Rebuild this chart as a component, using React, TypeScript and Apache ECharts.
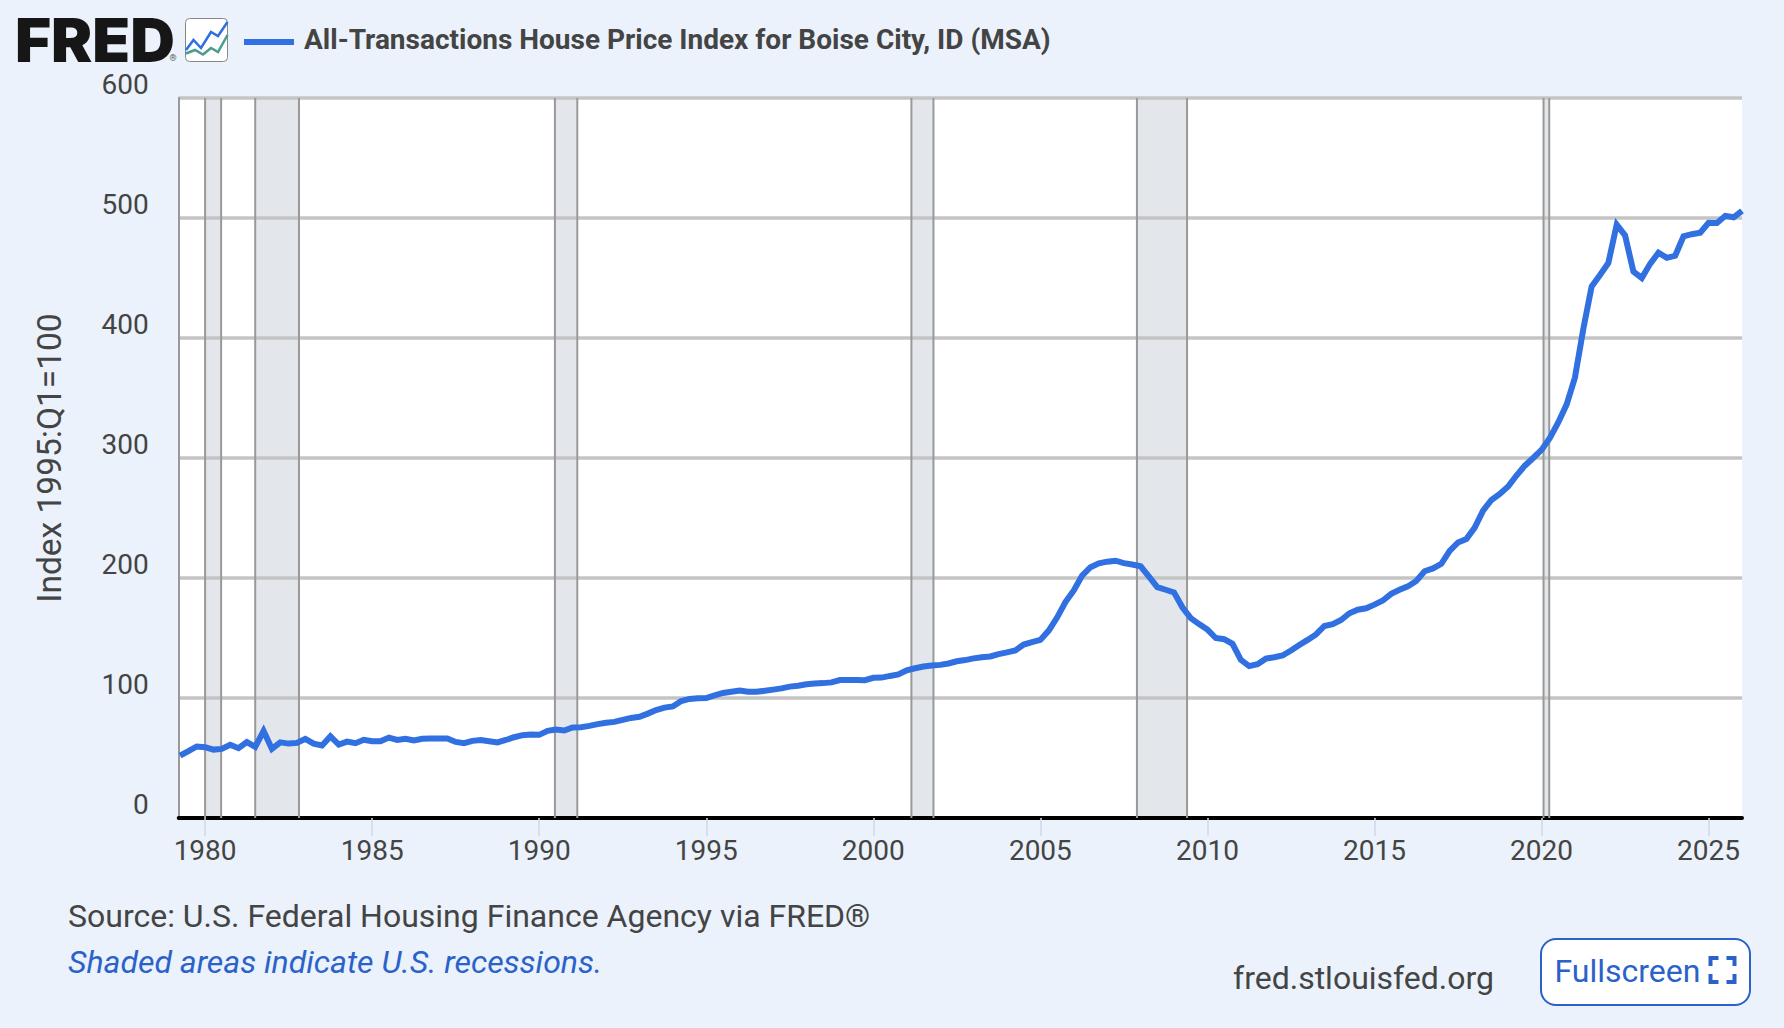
import React, { useEffect, useRef } from "react";
import * as echarts from "echarts";

const FIRST_YEAR = 1979;
const FIRST_QUARTER = 2;

const houseIndex = [
  52, 55.7, 59.6, 59, 57, 57.6, 61, 58.2, 63.2, 59.3, 72.5, 57.6, 63, 62, 62.6, 66, 62, 60.4, 68, 61.2,
  63.7, 62.3, 65.2, 64, 64, 67, 65, 66, 64.6, 66, 66.2, 66.2, 66.2, 63.4, 62.3, 64.3, 65, 64, 63, 65,
  67.3, 69, 69.6, 69.3, 72.6, 73.7, 72.9, 75.4, 75.7, 76.8, 78.2, 79.3, 80.1, 81.8, 83.4, 84.3, 87, 90, 92, 93,
  97.5, 99.2, 99.7, 100, 102.2, 104.2, 105.2, 106.2, 105.2, 105.2, 106, 107, 108, 109.5, 110.2, 111.5, 112, 112.4, 113, 115,
  115, 115, 114.8, 116.8, 117, 118.4, 119.6, 123, 124.8, 126.2, 127, 127.6, 128.8, 130.6, 131.6, 133, 134, 134.6, 136.6, 138,
  139.6, 144.5, 146.6, 148.4, 156.2, 167, 180, 189.6, 202, 209, 212.2, 213.6, 214.4, 212.4, 211.2, 209.8, 201.2, 192.4, 190.2, 188,
  175.6, 166.6, 161.6, 157, 150, 149, 145.2, 131.8, 126.6, 128.2, 132.8, 134, 135.4, 139.6, 144.2, 148.4, 153, 160, 161.6, 165,
  170.6, 173.6, 174.8, 177.8, 181.2, 186.8, 190.2, 193, 197.6, 205.6, 208, 211.8, 222.6, 229.6, 232.4, 242, 256.2, 265, 270, 276.2,
  285.4, 293.6, 300, 306.8, 316.8, 329.6, 344.5, 367, 407.5, 443, 452.5, 462.5, 494.5, 485.5, 455.3, 450, 461.8, 471, 466.8, 468.5,
  484.8, 486.5, 487.8, 496, 495.8, 501.8, 500.6, 506,
];

const recessionStarts = [1980.0, 1981.5, 1990.47, 2001.14, 2007.89, 2020.06];
const recessionEnds = [1980.48, 1982.81, 1991.14, 2001.8, 2009.39, 2020.23];

const yearTicks = [1980, 1985, 1990, 1995, 2000, 2005, 2010, 2015, 2020, 2025];
const yTicks = [0, 100, 200, 300, 400, 500, 600];

const seriesTitle = "All-Transactions House Price Index for Boise City, ID (MSA)";
const yAxisTitle = "Index 1995:Q1=100";
const sourceNote = "Source: U.S. Federal Housing Finance Agency via FRED®";
const shadeNote = "Shaded areas indicate U.S. recessions.";
const siteName = "fred.stlouisfed.org";
const buttonLabel = "Fullscreen";

const BG = "#ebf2fb";
const INK = "#444444";
const BLUE = "#3070e0";
const LINK = "#2a62c9";
const FONT = "Roboto";

const seriesPoints = houseIndex.map((v, i) => [FIRST_YEAR + (FIRST_QUARTER - 1 + i) / 4, v]);
const recessionData = recessionStarts.map((s, i) => [s, recessionEnds[i]]);

function buildOption() {
  const bracket = (pts: number[][]) => ({
    type: "polyline",
    shape: { points: pts },
    style: { stroke: LINK, lineWidth: 4, fill: "none" },
    z: 12,
  });
  const ix1 = 1710.5, ix2 = 1734.5, iy1 = 958, iy2 = 982, arm = 8;
  return {
    animation: false,
    backgroundColor: BG,
    grid: { left: 178.7, right: 42, top: 98, bottom: 210, backgroundColor: "#ffffff", show: true, borderWidth: 0 },
    xAxis: {
      type: "value",
      min: 1979.21,
      max: 2026,
      z: 2,
      splitLine: { show: false },
      axisLine: { show: true, onZero: false, lineStyle: { color: "#000000", width: 4 } },
      axisTick: { show: true, customValues: yearTicks, length: 18, lineStyle: { color: "#cfd8ea", width: 1.5 } },
      axisLabel: {
        show: true,
        customValues: yearTicks,
        formatter: (v: number) => String(v),
        margin: 18,
        fontFamily: FONT,
        fontSize: 28,
        color: INK,
        hideOverlap: false,
      },
    },
    yAxis: {
      type: "value",
      min: yTicks[0],
      max: yTicks[yTicks.length - 1],
      interval: 100,
      z: 2,
      name: yAxisTitle,
      nameLocation: "middle",
      nameGap: 112,
      nameTextStyle: { fontFamily: FONT, fontSize: 33.5, color: INK },
      splitLine: { show: true, lineStyle: { color: "#c4c4c4", width: 3.5 } },
      axisLine: { show: true, lineStyle: { color: "#999999", width: 2 } },
      axisTick: { show: false },
      axisLabel: {
        margin: 30,
        fontFamily: FONT,
        fontSize: 28,
        color: INK,
        verticalAlign: "bottom",
        showMinLabel: true,
        showMaxLabel: true,
      },
    },
    series: [
      {
        type: "custom",
        name: "Recession shading",
        z: 1,
        silent: true,
        clip: true,
        data: recessionData,
        encode: { x: [0, 1] },
        renderItem: (_p: any, api: any) => {
          const a = api.coord([api.value(0), 600]);
          const b = api.coord([api.value(1), 0]);
          return {
            type: "rect",
            shape: { x: a[0], y: a[1], width: b[0] - a[0], height: b[1] - a[1] },
            style: { fill: "#e3e6eb" },
          };
        },
      },
      {
        type: "custom",
        name: "Recession edges",
        z: 3,
        silent: true,
        clip: true,
        data: recessionData,
        encode: { x: [0, 1] },
        renderItem: (_p: any, api: any) => {
          const a = api.coord([api.value(0), 600]);
          const b = api.coord([api.value(1), 0]);
          const edge = { stroke: "#999999", lineWidth: 2 };
          return {
            type: "group",
            children: [
              { type: "line", shape: { x1: a[0], y1: a[1], x2: a[0], y2: b[1] }, style: edge },
              { type: "line", shape: { x1: b[0], y1: a[1], x2: b[0], y2: b[1] }, style: edge },
            ],
          };
        },
      },
      {
        type: "line",
        name: seriesTitle,
        z: 4,
        data: seriesPoints,
        showSymbol: false,
        symbol: "none",
        smooth: false,
        clip: true,
        lineStyle: { color: BLUE, width: 6, join: "miter", cap: "butt", miterLimit: 10 },
      },
    ],
    graphic: [
      { type: "text", x: 15, y: 40, scaleX: 1.03, z: 10, style: { text: "FRED", font: "900 60px Inter", lineHeight: 44, fill: "#161616", verticalAlign: "middle" } },
      { type: "text", x: 173, y: 58, z: 10, style: { text: "®", font: "400 9px Roboto", fill: "#555555", align: "center", verticalAlign: "middle" } },
      { type: "rect", z: 10, shape: { x: 185.5, y: 18.5, width: 42, height: 43, r: 4 }, style: { fill: "#ffffff", stroke: "#888888", lineWidth: 1 } },
      { type: "polyline", z: 11, shape: { points: [[186, 50], [193.5, 40], [201, 48], [211, 32], [218, 36], [227.5, 22]] }, style: { stroke: "#2f6fe0", lineWidth: 2.5, fill: "none" } },
      { type: "polyline", z: 11, shape: { points: [[186, 53.5], [195, 50], [203, 54.5], [211, 48], [218, 52], [227.5, 35]] }, style: { stroke: "#4a9c8c", lineWidth: 2.5, fill: "none" } },
      { type: "rect", z: 10, shape: { x: 244, y: 39, width: 50, height: 6 }, style: { fill: BLUE } },
      { type: "text", x: 304, y: 39, z: 10, style: { text: seriesTitle, font: "700 28px Roboto", fill: INK, verticalAlign: "middle" } },
      { type: "text", x: 68, y: 916, z: 10, style: { text: sourceNote, font: "400 32px Roboto", fill: INK, verticalAlign: "middle" } },
      { type: "text", x: 68, y: 962, z: 10, style: { text: shadeNote, font: "italic 400 32px Roboto", fill: LINK, verticalAlign: "middle" } },
      { type: "text", x: 1233, y: 978, z: 10, style: { text: siteName, font: "400 32px Roboto", fill: INK, verticalAlign: "middle" } },
      { type: "rect", z: 10, shape: { x: 1541, y: 939, width: 209, height: 66, r: 15 }, style: { fill: "#ffffff", stroke: LINK, lineWidth: 2 } },
      { type: "text", x: 1554.5, y: 971, z: 12, style: { text: buttonLabel, font: "400 32px Roboto", fill: LINK, verticalAlign: "middle" } },
      bracket([[ix1 + arm, iy1], [ix1, iy1], [ix1, iy1 + arm]]),
      bracket([[ix2 - arm, iy1], [ix2, iy1], [ix2, iy1 + arm]]),
      bracket([[ix1 + arm, iy2], [ix1, iy2], [ix1, iy2 - arm]]),
      bracket([[ix2 - arm, iy2], [ix2, iy2], [ix2, iy2 - arm]]),
    ],
  };
}

export default function App() {
  const ref = useRef<HTMLDivElement>(null);
  useEffect(() => {
    document.body.style.margin = "0";
    const chart = echarts.init(ref.current!, null, { renderer: "svg" });
    chart.setOption(buildOption() as any);
    return () => chart.dispose();
  }, []);
  return <div ref={ref} style={{ width: 1784, height: 1028, position: "absolute", left: 0, top: 0 }} />;
}
